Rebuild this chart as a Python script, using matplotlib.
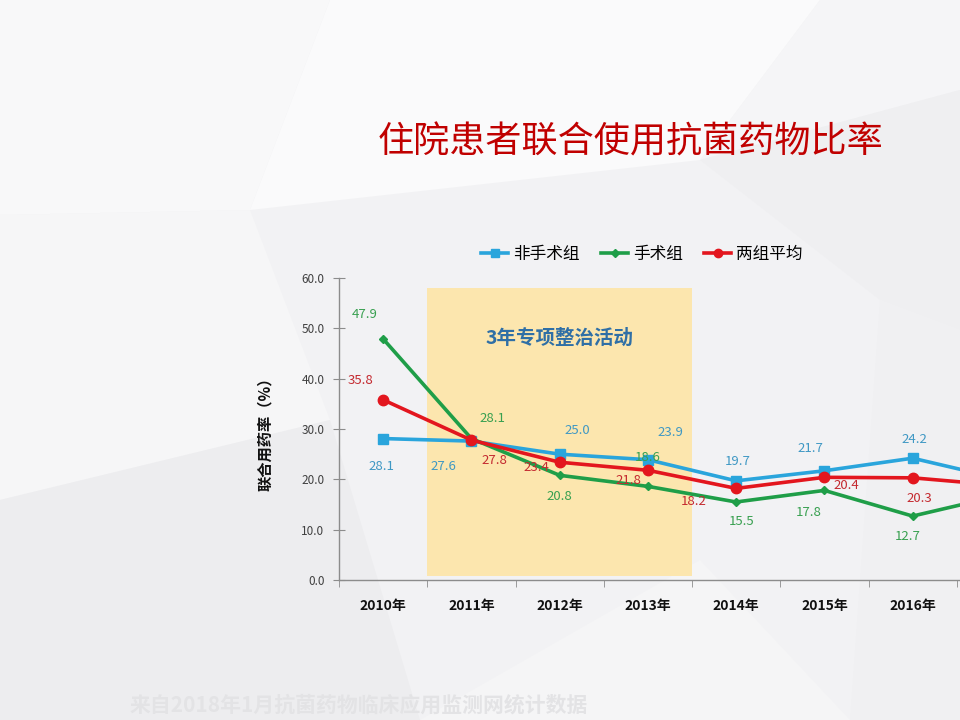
import numpy as np
import matplotlib
matplotlib.use('Agg')
import matplotlib.pyplot as plt
from matplotlib.patches import Rectangle, Polygon

plt.rcParams['font.family'] = ['Noto Sans CJK SC', 'DejaVu Sans']

years = ['2010年', '2011年', '2012年', '2013年', '2014年', '2015年', '2016年', '2017年']
non_surgical = [28.1, 27.6, 25.0, 23.9, 19.7, 21.7, 24.2, 20.1]
surgical = [47.9, 28.1, 20.8, 18.6, 15.5, 17.8, 12.7, 16.8]
average = [35.8, 27.8, 23.4, 21.8, 18.2, 20.4, 20.3, 18.8]
series_names = ['非手术组', '手术组', '两组平均']

# label offsets in pixels (dx, dy), one per point
off_blue = [(-2, -28), (-28, -25), (18, 24), (23, 27), (2, 19), (-14, 22), (2, 19), (0, 19)]
off_green = [(-18, 24), (21, 20), (0, -21), (0, 29), (5, -20), (-16, -22), (-5, -20), (0, -20)]
off_red = [(-23, 19), (23, -20), (-23, -5), (-19, -10), (-42, -13), (22, -8), (7, -21), (0, -21)]

c_blue, c_green, c_red = '#2AA5DC', '#1F9E48', '#E3161E'
t_blue, t_green, t_red = '#3F98C4', '#38A050', '#C42A30'

fig = plt.figure(figsize=(9.6, 7.2), dpi=100)
fig.patch.set_facecolor('#F2F2F4')

# faint low-poly background
bg = fig.add_axes([0, 0, 1, 1], zorder=-10)
bg.set_xlim(0, 960)
bg.set_ylim(720, 0)
bg.axis('off')
polys = [
    ([(0, 0), (330, 0), (250, 210), (0, 215)], '#F8F8F9'),
    ([(330, 0), (820, 0), (700, 160), (250, 210)], '#FAFAFB'),
    ([(820, 0), (960, 0), (960, 90), (700, 160)], '#F5F5F7'),
    ([(0, 215), (250, 210), (330, 420), (0, 500)], '#F6F6F7'),
    ([(700, 160), (960, 90), (960, 330), (880, 300)], '#EFEFF1'),
    ([(0, 500), (330, 420), (420, 720), (0, 720)], '#EDEDEF'),
    ([(880, 300), (960, 330), (960, 720), (850, 720)], '#F0F0F2'),
    ([(420, 720), (700, 560), (850, 720)], '#F5F5F6'),
]
for pts, col in polys:
    bg.add_patch(Polygon(pts, closed=True, facecolor=col, edgecolor='none'))

ax = fig.add_axes([339 / 960, 140 / 720, 706 / 960, 302 / 720])
ax.set_facecolor('none')
x = np.arange(len(years))

ax.add_patch(Rectangle((0.5, 0.8), 3.0, 57.3, facecolor='#FCE6AE', edgecolor='none', zorder=0))
ax.text(2.0, 48, '3年专项整治活动', ha='center', va='center', fontsize=14,
        fontweight='bold', color='#2F6FA6', zorder=1)

ax.plot(x, non_surgical, color=c_blue, lw=2.6, marker='s', ms=7, label=series_names[0], zorder=3)
ax.plot(x, surgical, color=c_green, lw=2.6, marker='D', ms=4.5, label=series_names[1], zorder=3)
ax.plot(x, average, color=c_red, lw=2.6, marker='o', ms=7.5, label=series_names[2], zorder=4)

ax.set_xlim(-0.5, len(years) - 0.5)
ax.set_ylim(0, 60)

# the slide crops the last year; only label what lands on the canvas
fig.canvas.draw()
x_px = ax.transData.transform(np.column_stack([x, np.zeros(len(x))]))[:, 0]
visible = x_px < fig.bbox.width

for vals, offs, col in [(non_surgical, off_blue, t_blue), (surgical, off_green, t_green),
                        (average, off_red, t_red)]:
    for xi, v, (dx, dy) in zip(x, vals, offs):
        if not visible[xi]:
            continue
        ax.annotate(f'{v:.1f}', (xi, v), xytext=(dx, dy), textcoords='offset pixels',
                    ha='center', va='center', fontsize=9.5, color=col, zorder=5)

ax.set_yticks(np.arange(0, 61, 10))
ax.set_yticklabels([f'{v:.1f}' for v in np.arange(0, 61, 10)])
ax.set_xticks(x[visible])
ax.set_xticklabels([y for y, vis in zip(years, visible) if vis], fontweight='bold')
ax.set_xticks(np.arange(-0.5, len(years)), minor=True)
ax.tick_params(axis='x', which='major', length=0, pad=14, labelsize=10, labelcolor='#111111')
ax.tick_params(axis='x', which='minor', length=5, color='#8C8C8C', direction='out')
ax.tick_params(axis='y', direction='inout', length=9, color='#8C8C8C', pad=6,
               labelsize=8.5, labelcolor='#404040')
for s in ['top', 'right']:
    ax.spines[s].set_visible(False)
for s in ['left', 'bottom']:
    ax.spines[s].set_color('#8C8C8C')
    ax.spines[s].set_linewidth(1.0)

fig.text(265 / 960, 1 - 430 / 720, '联合用药率（%）', rotation=90, ha='center', va='center',
         fontsize=11, fontweight='bold', color='#111111')

fig.legend(loc='center', bbox_to_anchor=(642 / 960, 1 - 254 / 720), ncol=3, frameon=False,
           fontsize=12, handlelength=1.6, handletextpad=0.3, columnspacing=1.3, markerscale=0.8)

fig.text(631 / 960, 1 - 142 / 720, '住院患者联合使用抗菌药物比率', ha='center', va='center',
         fontsize=26, color='#C00000')

fig.text(130 / 960, 1 - 705 / 720, '来自2018年1月抗菌药物临床应用监测网统计数据', ha='left',
         va='center', fontsize=15, fontweight='bold', color='#E3E3E5')

fig.savefig('out.png', dpi=100, facecolor=fig.get_facecolor())
